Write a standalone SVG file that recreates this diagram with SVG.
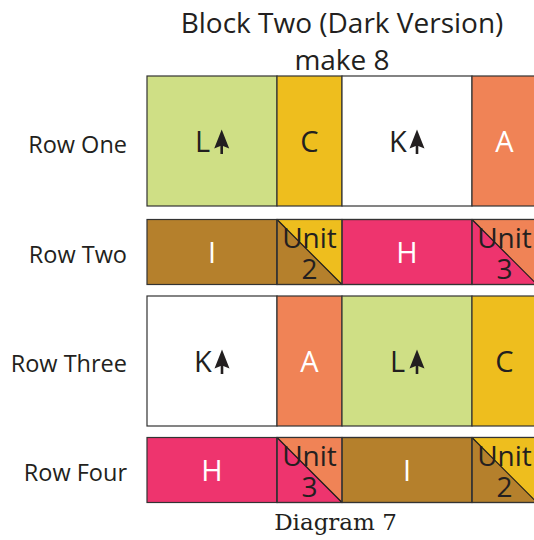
<svg xmlns="http://www.w3.org/2000/svg" width="534" height="540" viewBox="0 0 534 540">
<defs>
<style>
.t{font-family:"Open Sans","Noto Sans",sans-serif;fill:#231F20}
.lab{font-size:23.5px;text-anchor:end}
.cl{font-size:29px}
.w{fill:#ffffff}
.mid{text-anchor:middle}
.u{font-size:28px;text-anchor:middle}
.cell{stroke:#333333;stroke-width:1.2}
.dg{stroke:#1a1a1a;stroke-width:1.2}
.green{fill:#CFDF85}.yellow{fill:#EEBE1E}.orange{fill:#F08356}.pink{fill:#EE346E}.brown{fill:#B5802C}.white{fill:#ffffff}
</style>
<g id="arrow"><path d="M0,-23 L7.5,-4 L0,-7 L-7.5,-4 Z" fill="#231F20"/><rect x="-1.3" y="-8" width="2.6" height="9.5" fill="#231F20"/></g>
</defs>
<g id="title">
<text class="t mid" x="342" y="33" font-size="28">Block Two (Dark Version)</text>
<text class="t mid" x="342" y="70" font-size="28">make 8</text>
</g>
<g id="row-labels">
<text class="t lab" x="127" y="153">Row One</text>
<text class="t lab" x="127" y="263">Row Two</text>
<text class="t lab" x="127" y="372">Row Three</text>
<text class="t lab" x="127" y="481">Row Four</text>
</g>
<g id="row-one">
<rect class="cell green" x="147" y="76" width="130" height="130"/>
<rect class="cell yellow" x="277" y="76" width="65" height="130"/>
<rect class="cell white" x="342" y="76" width="130" height="130"/>
<rect class="cell orange" x="472" y="76" width="70" height="130"/>
<text class="t cl" x="195" y="152">L</text><use href="#arrow" x="221.7" y="152.5"/>
<text class="t cl mid" x="309.5" y="152">C</text>
<text class="t cl" x="389" y="152">K</text><use href="#arrow" x="417" y="152.5"/>
<text class="t cl mid w" x="504.5" y="152">A</text>
</g>
<g id="row-two">
<rect class="cell brown" x="147" y="219.5" width="130" height="65"/>
<rect class="cell brown" x="277" y="219.5" width="65" height="65"/>
<path class="yellow" d="M277,219.5 H342 V284.5 Z"/>
<line class="dg" x1="277" y1="219.5" x2="342" y2="284.5"/>
<rect class="cell pink" x="342" y="219.5" width="130" height="65"/>
<rect class="cell pink" x="472" y="219.5" width="70" height="65"/>
<path class="orange" d="M472,219.5 H537 V284.5 Z M537,219.5 H542 V284.5 H537 Z"/>
<line class="dg" x1="472" y1="219.5" x2="537" y2="284.5"/>
<rect x="277" y="219.5" width="265" height="65" fill="none" stroke="#333333" stroke-width="1.2"/>
<line class="cell" x1="342" y1="219.5" x2="342" y2="284.5"/>
<line class="cell" x1="472" y1="219.5" x2="472" y2="284.5"/>
<text class="t cl mid w" x="212" y="263">I</text>
<text class="t u" x="309.5" y="248">Unit</text><text class="t u" x="309.5" y="279">2</text>
<text class="t cl mid w" x="407" y="263">H</text>
<text class="t u" x="504.5" y="248">Unit</text><text class="t u" x="504.5" y="279">3</text>
</g>
<g id="row-three">
<rect class="cell white" x="147" y="296" width="130" height="130"/>
<rect class="cell orange" x="277" y="296" width="65" height="130"/>
<rect class="cell green" x="342" y="296" width="130" height="130"/>
<rect class="cell yellow" x="472" y="296" width="70" height="130"/>
<text class="t cl" x="194" y="372">K</text><use href="#arrow" x="222" y="372.5"/>
<text class="t cl mid w" x="309.5" y="372">A</text>
<text class="t cl" x="390" y="372">L</text><use href="#arrow" x="417" y="372.5"/>
<text class="t cl mid" x="504.5" y="372">C</text>
</g>
<g id="row-four">
<rect class="cell pink" x="147" y="437.5" width="130" height="65"/>
<rect class="cell pink" x="277" y="437.5" width="65" height="65"/>
<path class="orange" d="M277,437.5 H342 V502.5 Z"/>
<line class="dg" x1="277" y1="437.5" x2="342" y2="502.5"/>
<rect class="cell brown" x="342" y="437.5" width="130" height="65"/>
<rect class="cell brown" x="472" y="437.5" width="70" height="65"/>
<path class="yellow" d="M472,437.5 H537 V502.5 Z M537,437.5 H542 V502.5 H537 Z"/>
<line class="dg" x1="472" y1="437.5" x2="537" y2="502.5"/>
<rect x="277" y="437.5" width="265" height="65" fill="none" stroke="#333333" stroke-width="1.2"/>
<line class="cell" x1="342" y1="437.5" x2="342" y2="502.5"/>
<line class="cell" x1="472" y1="437.5" x2="472" y2="502.5"/>
<text class="t cl mid w" x="212" y="481">H</text>
<text class="t u" x="309.5" y="466">Unit</text><text class="t u" x="309.5" y="497">3</text>
<text class="t cl mid w" x="407" y="481">I</text>
<text class="t u" x="504.5" y="466">Unit</text><text class="t u" x="504.5" y="497">2</text>
</g>
<g id="caption">
<text x="335.5" y="530" text-anchor="middle" font-family="'DejaVu Serif',serif" font-size="23" fill="#231F20">Diagram 7</text>
</g>
</svg>
